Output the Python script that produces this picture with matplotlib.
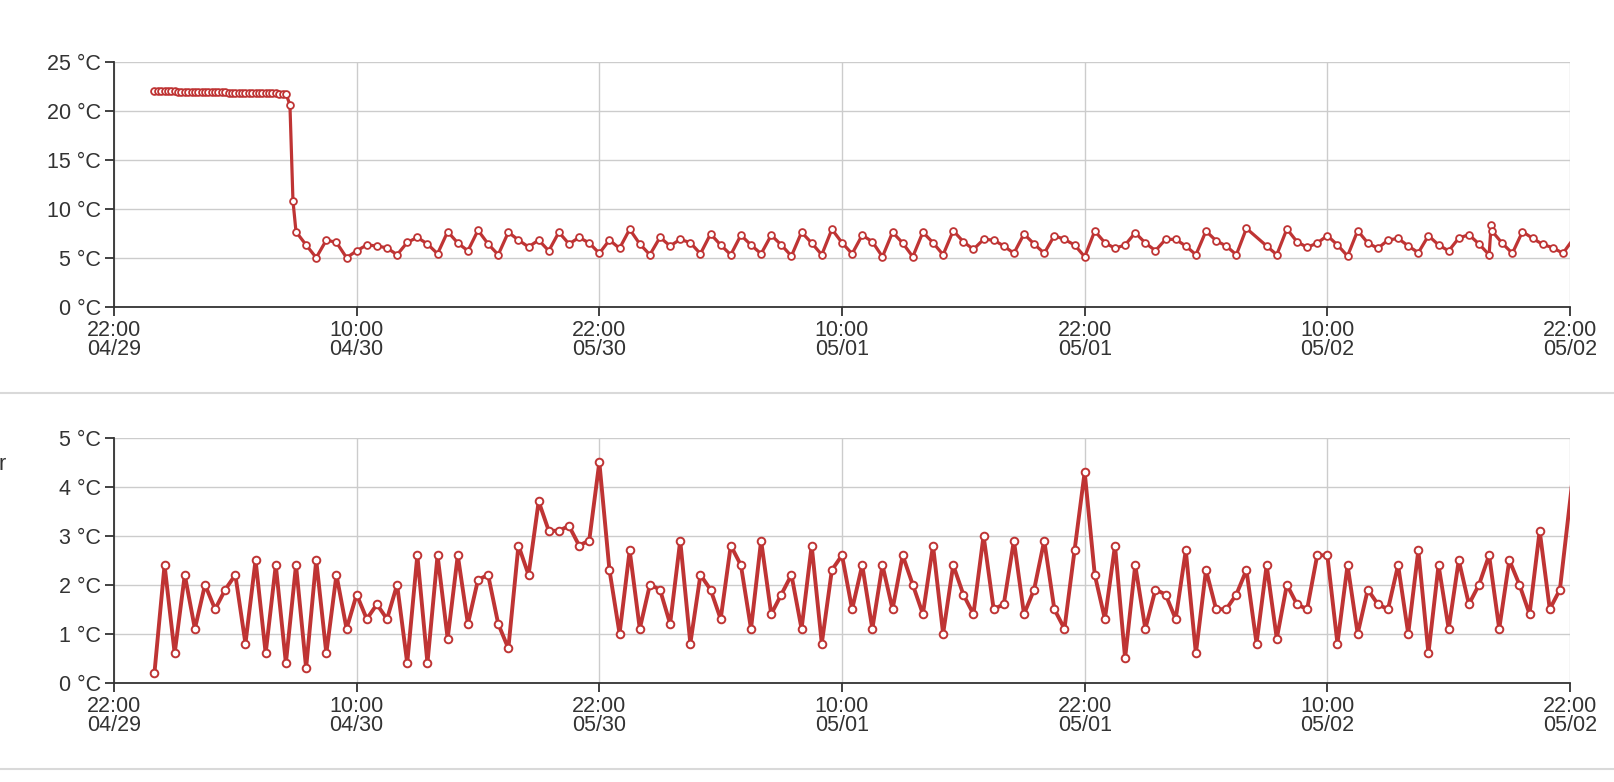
import numpy as np
import matplotlib
matplotlib.use("Agg")
import matplotlib.pyplot as plt
from matplotlib.lines import Line2D

plt.rcParams['font.family'] = ['Liberation Sans', 'DejaVu Sans']

# ---------------- data (x in hours since 22:00 04/29) ----------------
tick_hours = [0, 12, 24, 36, 48, 60, 72]
tick_labels = ["22:00\n04/29", "10:00\n04/30", "22:00\n05/30", "10:00\n05/01",
               "22:00\n05/01", "10:00\n05/02", "22:00\n05/02"]

# top series: dense 10-min readings before the drop
top_flat_times = list(np.arange(0, 40) / 6.0 + 2.0)
top_flat_values = [22.0] * 7 + [21.9] * 15 + [21.85] * 15 + [21.75] * 3
top_drop_times = [8.7, 8.85]
top_drop_values = [20.6, 10.8]
# 30-min readings 09:00 .. 68:00 (reading at 56.5 missing)
top_half_times = [t for t in np.arange(9.0, 68.01, 0.5) if abs(t - 56.5) > 1e-6]
top_half_values = [
    7.65, 6.3, 5.0, 6.8, 6.56, 5.0, 5.7, 6.3, 6.2, 6.0, 5.3, 6.56, 7.07, 6.4, 5.4,
    7.66, 6.5, 5.7, 7.8, 6.4, 5.3, 7.6, 6.8, 6.1, 6.8, 5.7, 7.6, 6.4, 7.07, 6.5,
    5.45, 6.8, 5.96, 7.9, 6.4, 5.3, 7.08, 6.2, 6.87, 6.53, 5.4, 7.42, 6.3, 5.3,
    7.3, 6.3, 5.4, 7.3, 6.3, 5.17, 7.6, 6.5, 5.3, 7.9,
    6.53, 5.4, 7.3, 6.63, 5.1, 7.6, 6.5, 5.1, 7.6, 6.53, 5.3, 7.76, 6.63, 5.85,
    6.87, 6.8, 6.2, 5.45, 7.42, 6.4, 5.45, 7.25, 6.87, 6.3,
    5.1, 7.72, 6.53, 5.96, 6.3, 7.55, 6.5, 5.72, 6.87, 6.87, 6.2, 5.3, 7.72, 6.73,
    6.2, 5.3, 7.99,
    6.2, 5.3, 7.93, 6.63, 6.05, 6.5,
    7.25, 6.3, 5.17, 7.76, 6.5, 5.96, 6.8, 6.97, 6.2, 5.51, 7.25, 6.3, 5.7, 7.0,
    7.35, 6.4, 5.3,
]
top_tail_times = [68.1, 68.15, 68.65, 69.15, 69.65, 70.15, 70.65, 71.15, 71.65, 72.3]
top_tail_values = [8.3, 7.7, 6.47, 5.45, 7.66, 6.98, 6.36, 6.02, 5.45, 7.3]

top_times = top_flat_times + top_drop_times + top_half_times + top_tail_times
top_values = top_flat_values + top_drop_values + top_half_values + top_tail_values

# bottom series: 30-min readings 00:00 04/30 .. 21:30 05/02, plus one beyond the edge
bottom_times = list(np.arange(2.0, 71.51, 0.5)) + [72.35]
bottom_values = [
    0.2, 2.4, 0.6, 2.2, 1.1, 2.0, 1.5, 1.9, 2.2, 0.8, 2.5, 0.6, 2.4, 0.4, 2.4, 0.3,
    2.5, 0.6, 2.2, 1.1,
    1.8, 1.3, 1.6, 1.3, 2.0, 0.4, 2.6, 0.4, 2.6, 0.9, 2.6, 1.2, 2.1, 2.2, 1.2, 0.7,
    2.8, 2.2, 3.7, 3.1, 3.1, 3.2, 2.8, 2.9,
    4.5, 2.3, 1.0, 2.7, 1.1, 2.0, 1.9, 1.2, 2.9, 0.8, 2.2, 1.9, 1.3, 2.8, 2.4, 1.1,
    2.9, 1.4, 1.8, 2.2, 1.1, 2.8, 0.8, 2.3,
    2.6, 1.5, 2.4, 1.1, 2.4, 1.5, 2.6, 2.0, 1.4, 2.8, 1.0, 2.4, 1.8, 1.4, 3.0, 1.5,
    1.6, 2.9, 1.4, 1.9, 2.9, 1.5, 1.1, 2.7,
    4.3, 2.2, 1.3, 2.8, 0.5, 2.4, 1.1, 1.9, 1.8, 1.3, 2.7, 0.6, 2.3, 1.5, 1.5, 1.8,
    2.3, 0.8, 2.4, 0.9, 2.0, 1.6, 1.5, 2.6,
    2.6, 0.8, 2.4, 1.0, 1.9, 1.6, 1.5, 2.4, 1.0, 2.7, 0.6, 2.4, 1.1, 2.5, 1.6, 2.0,
    2.6, 1.1, 2.5, 2.0, 1.4, 3.1, 1.5, 1.9,
    4.95,
]

top_yticks = [0, 5, 10, 15, 20, 25]
bottom_yticks = [0, 1, 2, 3, 4, 5]

# ---------------- style ----------------
W, H = 1614, 782
RED = "#bf3434"
GRID = "#cccccc"
AXC = "#333333"
TXT = "#333333"
FS = 15.5

fig = plt.figure(figsize=(W / 100, H / 100), dpi=100)
fig.patch.set_facecolor("white")


def make_axes(top_px, bottom_px):
    left, right = 114, 1570
    return fig.add_axes([left / W, 1 - bottom_px / H, (right - left) / W,
                         (bottom_px - top_px) / H])


def style(ax, yticks):
    ax.set_xlim(0, 72)
    ax.set_ylim(yticks[0], yticks[-1])
    ax.set_xticks(tick_hours)
    ax.set_xticklabels(tick_labels, linespacing=0.9)
    ax.set_yticks(yticks)
    ax.set_yticklabels([f"{v} °C" for v in yticks])
    ax.grid(True, color=GRID, lw=1.0, zorder=0)
    ax.set_axisbelow(True)
    for s in ("top", "right"):
        ax.spines[s].set_visible(False)
    for s in ("left", "bottom"):
        ax.spines[s].set_color(AXC)
        ax.spines[s].set_linewidth(1.3)
    ax.tick_params(axis="both", colors=AXC, labelcolor=TXT, labelsize=FS,
                   length=6.5, width=1.3, direction="out")
    ax.tick_params(axis="x", pad=3)
    ax.tick_params(axis="y", pad=3)
    ax.set_facecolor("white")


ax1 = make_axes(61.7, 306.7)
style(ax1, top_yticks)
ax1.plot(top_times, top_values, color=RED, lw=2.3, marker="o", ms=4.9,
         mfc="white", mec=RED, mew=1.3, zorder=3, clip_on=True)

ax2 = make_axes(437.7, 682.7)
style(ax2, bottom_yticks)
ax2.plot(bottom_times, bottom_values, color=RED, lw=2.8, marker="o", ms=5.5,
         mfc="white", mec=RED, mew=1.4, zorder=3, clip_on=True)

# separators
for ypx in (393, 769):
    fig.add_artist(Line2D([0, 1], [1 - ypx / H, 1 - ypx / H],
                          transform=fig.transFigure, color="#d9d9d9", lw=1.5))

# cut-off label at the left edge
fig.text(6 / W, 1 - 465 / H, "r", ha="right", va="center", fontsize=FS, color=TXT)

fig.savefig("out.png", dpi=100)
